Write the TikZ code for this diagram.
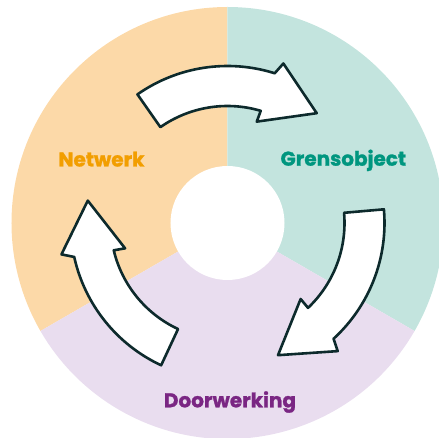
\documentclass[tikz,border=0pt]{standalone}
\usepackage{fontspec}
\setmainfont{Poppins}[BoldFeatures={FakeBold=1.2}]
\definecolor{netwerkbg}{HTML}{FCD9A8}
\definecolor{grensbg}{HTML}{C3E4DE}
\definecolor{doorbg}{HTML}{E9DDEF}
\definecolor{netwerkfg}{HTML}{F29E00}
\definecolor{grensfg}{HTML}{00967F}
\definecolor{doorfg}{HTML}{7A2683}
\definecolor{rand}{HTML}{0D2A2C}

\begin{document}
\begin{tikzpicture}[x=1pt, y=1pt,
        label/.style={font=\fontsize{20}{22}\selectfont\bfseries, anchor=base},
        pijl/.style={draw=rand, fill=white, line width=2.6pt, line join=round}]
        \useasboundingbox (-227.5,-215) rectangle (211.5,223);
        \clip (-227.5,-215) rectangle (211.5,223);

        % ring in drie delen
        \fill[netwerkbg] (0,0) -- (90:216) arc[start angle=90, end angle=210, radius=216] -- cycle;
        \fill[grensbg] (0,0) -- (90:216) arc[start angle=90, end angle=-30, radius=216] -- cycle;
        \fill[doorbg] (0,0) -- (-30:216) arc[start angle=-30, end angle=-150, radius=216] -- cycle;
        \fill[white] (0,0) circle[radius=57];

        % pijlen
        \foreach \hoek in {0,-120,-240}
            \draw[pijl, rotate=\hoek] (125:157) arc[start angle=125, end angle=72.5, radius=157]
                -- (70.7:169) -- (50.9:141.5) -- (73.9:105.5) -- (73.5:117)
                arc[start angle=73.5, end angle=125, radius=117] -- cycle;

        % namen
        \node[label, text=netwerkfg] (netwerk) at (-126,56.5) {Netwerk};
        \node[label, text=grensfg] (grensobject) at (115.8,57.3) {Grensobject};
        \node[label, text=doorfg] (doorwerking) at (2.5,-184.3) {Doorwerking};
\end{tikzpicture}
\end{document}
